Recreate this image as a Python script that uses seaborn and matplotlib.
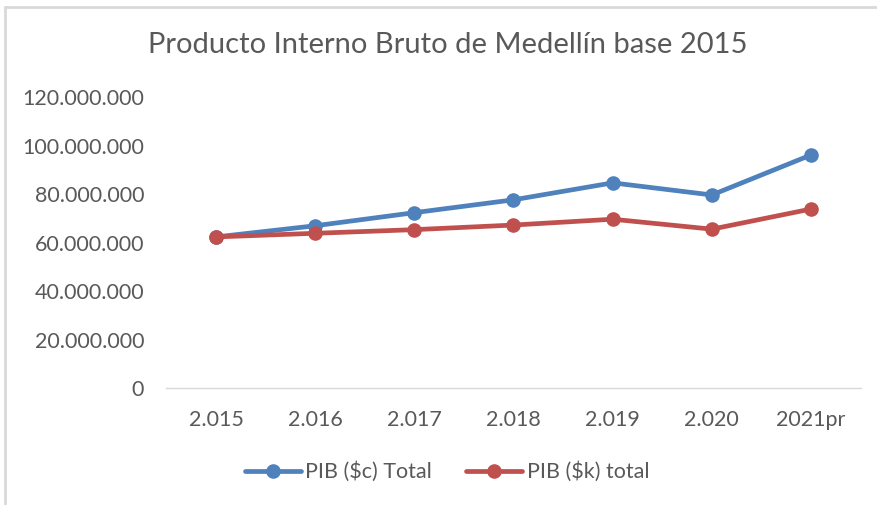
import pandas as pd
import matplotlib.pyplot as plt
import seaborn as sns
from matplotlib.ticker import FuncFormatter
from matplotlib.lines import Line2D

# Datos (millones de pesos)
years = ['2.015', '2.016', '2.017', '2.018', '2.019', '2.020', '2021pr']
pib_corrientes = [62300000, 66900000, 72300000, 77600000, 84600000, 79600000, 96100000]
pib_constantes = [62300000, 63800000, 65300000, 67200000, 69600000, 65500000, 73800000]
series_names = ['PIB ($c) Total', 'PIB ($k) total']
colors = ['#4F81BD', '#C0504D']

df = pd.DataFrame({
    'year': years * 2,
    'value': pib_corrientes + pib_constantes,
    'serie': [series_names[0]] * len(years) + [series_names[1]] * len(years),
})

sns.set_style('white')
plt.rcParams['font.family'] = ['Lato', 'DejaVu Sans']
text_color = '#595959'

fig = plt.figure(figsize=(8.78, 5.05), dpi=100)
ax = fig.add_axes([166.4 / 878, 1 - 388 / 505, (860.6 - 166.4) / 878, (388 - 97) / 505])

sns.lineplot(data=df, x='year', y='value', hue='serie', palette=colors,
             marker='o', markersize=10.5, markeredgewidth=0, linewidth=3.4,
             sort=False, ax=ax, legend=False)

ax.set_xlim(-0.5, len(years) - 0.5)
ax.set_ylim(0, 120000000)
ax.set_yticks(range(0, 120000001, 20000000))
ax.yaxis.set_major_formatter(FuncFormatter(lambda v, p: f'{v:,.0f}'.replace(',', '.')))
ax.set_xlabel('')
ax.set_ylabel('')
for s in ['top', 'right', 'left']:
    ax.spines[s].set_visible(False)
ax.spines['bottom'].set_color('#D9D9D9')
ax.spines['bottom'].set_linewidth(1.0)
ax.tick_params(axis='y', length=0, pad=16, labelsize=15.5, labelcolor=text_color)
ax.tick_params(axis='x', length=0, pad=16, labelsize=15.5, labelcolor=text_color)

fig.text(448 / 878, 1 - 45 / 505, 'Producto Interno Bruto de Medellín base 2015',
         ha='center', va='center', fontsize=21, color=text_color)

handles = [Line2D([0], [0], color=c, lw=3.4, marker='o', markersize=10.5, markeredgewidth=0)
           for c in colors]
fig.legend(handles, series_names, loc='center', bbox_to_anchor=(447 / 878, 1 - 472 / 505),
           ncol=2, frameon=False, fontsize=15.5, labelcolor=text_color,
           handlelength=2.6, handletextpad=0.2, columnspacing=1.6)

# borde del cuadro del grafico
fig.add_artist(Line2D([5 / 878, 5 / 878], [0, 1 - 7 / 505], color='#D9D9D9', lw=2,
                      transform=fig.transFigure))
fig.add_artist(Line2D([5 / 878, 1], [1 - 7 / 505, 1 - 7 / 505], color='#D9D9D9', lw=2,
                      transform=fig.transFigure))

fig.savefig('out.png', dpi=100)
